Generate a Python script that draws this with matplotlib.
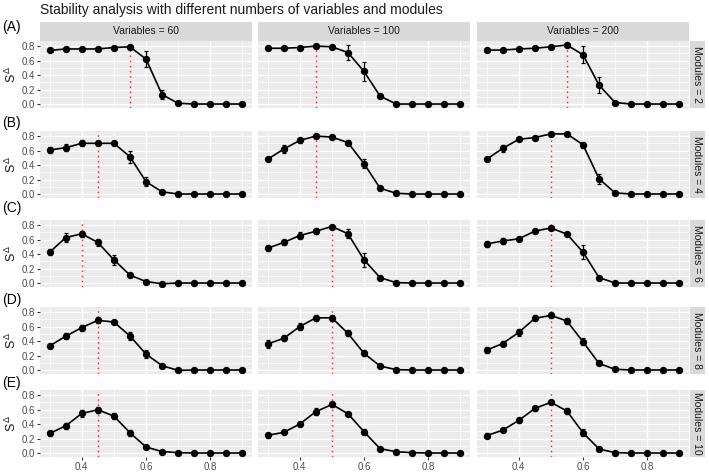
import matplotlib.pyplot as plt
import numpy as np

plt.rcParams['font.family'] = ['Liberation Sans', 'DejaVu Sans']
plt.rcParams['mathtext.fontset'] = 'custom'
plt.rcParams['mathtext.rm'] = 'Liberation Sans'
plt.rcParams['mathtext.it'] = 'Liberation Sans'

# threshold values on the x axis
x_vals = [0.30, 0.35, 0.40, 0.45, 0.50, 0.55, 0.60, 0.65, 0.70, 0.75, 0.80, 0.85, 0.90]
variables = [60, 100, 200]
modules = [2, 4, 6, 8, 10]
row_tags = ["(A)", "(B)", "(C)", "(D)", "(E)"]

# mean S^delta, one list per number of variables (60, 100, 200)
mean_m2 = [
    [0.74, 0.76, 0.76, 0.76, 0.78, 0.79, 0.62, 0.13, 0.01, 0.0, 0.0, 0.0, 0.0],
    [0.77, 0.77, 0.78, 0.80, 0.79, 0.71, 0.45, 0.11, 0.0, 0.0, 0.0, 0.0, 0.0],
    [0.745, 0.745, 0.76, 0.77, 0.79, 0.815, 0.68, 0.26, 0.02, 0.0, 0.0, 0.0, 0.0],
]
err_m2 = [
    [0.01, 0.01, 0.01, 0.01, 0.01, 0.02, 0.11, 0.06, 0.01, 0.0, 0.0, 0.0, 0.0],
    [0.01, 0.01, 0.01, 0.01, 0.02, 0.10, 0.13, 0.03, 0.0, 0.0, 0.0, 0.0, 0.0],
    [0.01, 0.01, 0.01, 0.01, 0.01, 0.01, 0.12, 0.11, 0.01, 0.0, 0.0, 0.0, 0.0],
]
mean_m4 = [
    [0.607, 0.64, 0.70, 0.70, 0.70, 0.515, 0.17, 0.03, 0.0, 0.0, 0.0, 0.0, 0.0],
    [0.48, 0.62, 0.74, 0.80, 0.786, 0.71, 0.42, 0.08, 0.01, 0.0, 0.0, 0.0, 0.0],
    [0.48, 0.63, 0.755, 0.78, 0.83, 0.83, 0.68, 0.21, 0.015, 0.0, 0.0, 0.0, 0.0],
]
err_m4 = [
    [0.04, 0.05, 0.04, 0.03, 0.02, 0.08, 0.06, 0.01, 0.0, 0.0, 0.0, 0.0, 0.0],
    [0.02, 0.06, 0.04, 0.01, 0.01, 0.03, 0.06, 0.01, 0.0, 0.0, 0.0, 0.0, 0.0],
    [0.02, 0.05, 0.01, 0.01, 0.01, 0.01, 0.04, 0.07, 0.01, 0.0, 0.0, 0.0, 0.0],
]
mean_m6 = [
    [0.425, 0.627, 0.68, 0.56, 0.32, 0.11, 0.02, -0.01, 0.0, 0.0, 0.0, 0.0, 0.0],
    [0.48, 0.56, 0.655, 0.715, 0.78, 0.68, 0.32, 0.075, 0.005, 0.0, 0.0, 0.0, 0.0],
    [0.54, 0.58, 0.61, 0.716, 0.76, 0.675, 0.426, 0.075, 0.0, 0.0, 0.0, 0.0, 0.0],
]
err_m6 = [
    [0.04, 0.06, 0.04, 0.05, 0.07, 0.03, 0.01, 0.01, 0.0, 0.0, 0.0, 0.0, 0.0],
    [0.04, 0.04, 0.05, 0.04, 0.02, 0.06, 0.10, 0.02, 0.0, 0.0, 0.0, 0.0, 0.0],
    [0.04, 0.04, 0.03, 0.03, 0.01, 0.02, 0.10, 0.02, 0.0, 0.0, 0.0, 0.0, 0.0],
]
mean_m8 = [
    [0.334, 0.466, 0.585, 0.686, 0.663, 0.47, 0.22, 0.06, -0.005, 0.0, 0.0, 0.0, 0.0],
    [0.36, 0.437, 0.60, 0.72, 0.72, 0.506, 0.23, 0.055, 0.005, 0.0, 0.0, 0.0, 0.0],
    [0.274, 0.366, 0.52, 0.713, 0.754, 0.677, 0.39, 0.09, 0.01, 0.0, 0.0, 0.0, 0.0],
]
err_m8 = [
    [0.03, 0.04, 0.04, 0.04, 0.02, 0.06, 0.05, 0.01, 0.0, 0.0, 0.0, 0.0, 0.0],
    [0.05, 0.04, 0.05, 0.04, 0.04, 0.04, 0.04, 0.01, 0.0, 0.0, 0.0, 0.0, 0.0],
    [0.04, 0.03, 0.05, 0.04, 0.04, 0.04, 0.05, 0.02, 0.0, 0.0, 0.0, 0.0, 0.0],
]
mean_m10 = [
    [0.27, 0.375, 0.546, 0.597, 0.51, 0.28, 0.083, 0.02, 0.005, 0.0, 0.0, 0.0, 0.0],
    [0.244, 0.285, 0.40, 0.57, 0.67, 0.543, 0.294, 0.06, 0.018, 0.005, 0.0, 0.0, 0.0],
    [0.24, 0.315, 0.45, 0.615, 0.70, 0.58, 0.28, 0.055, 0.005, 0.0, 0.0, 0.0, 0.0],
]
err_m10 = [
    [0.03, 0.04, 0.05, 0.04, 0.04, 0.04, 0.01, 0.01, 0.0, 0.0, 0.0, 0.0, 0.0],
    [0.03, 0.02, 0.03, 0.05, 0.04, 0.03, 0.04, 0.01, 0.0, 0.0, 0.0, 0.0, 0.0],
    [0.03, 0.03, 0.04, 0.04, 0.03, 0.04, 0.05, 0.01, 0.0, 0.0, 0.0, 0.0, 0.0],
]
# threshold with highest stability (red dotted line)
best_thr = [
    [0.55, 0.45, 0.55],
    [0.45, 0.45, 0.50],
    [0.40, 0.50, 0.50],
    [0.45, 0.50, 0.50],
    [0.45, 0.50, 0.50],
]

means = [mean_m2, mean_m4, mean_m6, mean_m8, mean_m10]
errs = [err_m2, err_m4, err_m6, err_m8, err_m10]

W, H = 709, 472
fig = plt.figure(figsize=(W / 100, H / 100), dpi=100)


def box(x, y, w, h):
    # pixel box (top-left origin) -> figure fraction
    return [x / W, 1 - (y + h) / H, w / W, h / H]


col_left = [40, 258, 477]
col_w = 212
row_top = [41, 131, 220, 307, 390]
row_h = 67
tag_y = [27, 123, 208, 300, 383]

fig.text(40 / W, 1 - 10 / H, "Stability analysis with different numbers of variables and modules",
         fontsize=10, va="center", ha="left", color="#1a1a1a")

for i, m in enumerate(modules):
    fig.text(2 / W, 1 - tag_y[i] / H, row_tags[i], fontsize=10, va="center", ha="left")
    for j, v in enumerate(variables):
        ax = fig.add_axes(box(col_left[j], row_top[i], col_w, row_h))
        ax.set_facecolor("#ebebeb")
        for s in ax.spines.values():
            s.set_visible(False)
        ax.set_xlim(0.27, 0.93)
        ax.set_ylim(-0.055, 0.87)
        ax.set_xticks([0.4, 0.6, 0.8])
        ax.set_xticks([0.3, 0.5, 0.7, 0.9], minor=True)
        ax.set_yticks([0.0, 0.2, 0.4, 0.6, 0.8])
        ax.set_yticks([0.1, 0.3, 0.5, 0.7], minor=True)
        ax.grid(which="major", color="white", linewidth=1.0)
        ax.grid(which="minor", color="white", linewidth=0.5)
        ax.set_axisbelow(True)
        ax.tick_params(which="minor", length=0)
        ax.tick_params(which="major", length=2.5, width=0.8, color="#333333",
                       labelsize=7, labelcolor="#4d4d4d", pad=1.2)
        if i < len(modules) - 1:
            ax.tick_params(axis="x", which="major", length=0, labelbottom=False)
        else:
            ax.set_xticklabels(["0.4", "0.6", "0.8"])
        if j > 0:
            ax.tick_params(axis="y", which="major", length=0, labelleft=False)
        else:
            ax.set_yticklabels(["0.0", "0.2", "0.4", "0.6", "0.8"])

        ax.axvline(best_thr[i][j], color="#ff3030", linestyle=(0, (1.2, 2.5)), linewidth=1.0, zorder=2)
        ax.errorbar(x_vals, means[i][j], yerr=errs[i][j], color="black", linewidth=1.2,
                    marker="o", markersize=4.3, elinewidth=0.9, capsize=1.6, capthick=0.9, zorder=3)

        if i == 0:
            sax = fig.add_axes(box(col_left[j], 22, col_w, 19))
            sax.set_facecolor("#d9d9d9")
            sax.set_xticks([])
            sax.set_yticks([])
            for s in sax.spines.values():
                s.set_visible(False)
            sax.text(0.5, 0.5, "Variables = %d" % v, transform=sax.transAxes,
                     ha="center", va="center", fontsize=7.5, color="#1a1a1a")

    rax = fig.add_axes(box(690, row_top[i], 15, row_h))
    rax.set_facecolor("#d9d9d9")
    rax.set_xticks([])
    rax.set_yticks([])
    for s in rax.spines.values():
        s.set_visible(False)
    rax.text(0.5, 0.5, "Modules = %d" % m, transform=rax.transAxes, rotation=-90,
             ha="center", va="center", fontsize=7.5, color="#1a1a1a")

    fig.text(11 / W, 1 - (row_top[i] + row_h / 2) / H, r"$S^{\Delta}$", rotation=90,
             fontsize=9, ha="center", va="center", color="#1a1a1a")

fig.savefig("out.png", dpi=100)
